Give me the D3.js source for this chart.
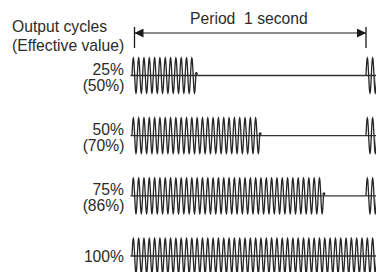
<!DOCTYPE html>
<html>
<head>
<meta charset="utf-8">
<script src="https://cdn.jsdelivr.net/npm/d3@7"></script>
<style>
  body { margin: 0; background: #fff; }
  svg { display: block; }
  text { font-family: "Liberation Sans", Arial, sans-serif; fill: #2b2b2b; }
</style>
</head>
<body>
<div id="chart"></div>
<script>
// dati
const rowLabels = ["25%", "50%", "75%", "100%"];
const effectiveLabels = ["(50%)", "(70%)", "(86%)", ""];
const onCycles = [12, 24, 36, 46];   // cicli accesi per riga
const periodCycles = 44;             // cicli in un periodo (1 secondo)
const restartCycles = 2;             // cicli visibili dopo la fine del periodo
const periodLabel = "Period\u00a0\u00a01 second";
const titleLines = ["Output cycles", "(Effective value)"];

const width = 376;
const height = 272;

const svg = d3.select("#chart")
    .append("svg")
    .attr("width", width)
    .attr("height", height);

const x = d3.scaleLinear().domain([0, periodCycles]).range([132, 366]);
const yRow = d3.scalePoint().domain(rowLabels).range([75.5, 256]);
const amp = d3.scaleLinear().domain([-1, 1]).range([17.5, -17.5]);

// titolo in alto a sinistra
svg.append("g")
    .selectAll("text")
    .data(titleLines)
    .enter()
    .append("text")
    .attr("x", 12)
    .attr("y", (d, i) => 32 + i * 18.5)
    .attr("font-size", "15.7px")
    .text(d => d);

// freccia del periodo
const arrowY = 33;
const defs = svg.append("defs");
defs.append("marker")
    .attr("id", "arrow")
    .attr("viewBox", "0 0 10 10")
    .attr("refX", 10)
    .attr("refY", 5)
    .attr("markerWidth", 9)
    .attr("markerHeight", 9)
    .attr("markerUnits", "userSpaceOnUse")
    .attr("orient", "auto-start-reverse")
    .append("path")
    .attr("d", "M0,0L10,5L0,10Z")
    .attr("fill", "#1a1a1a");

svg.append("line")
    .attr("x1", x(0) + 2.5).attr("x2", x(periodCycles))
    .attr("y1", arrowY).attr("y2", arrowY)
    .attr("stroke", "#1a1a1a")
    .attr("stroke-width", 1.2)
    .attr("marker-start", "url(#arrow)")
    .attr("marker-end", "url(#arrow)");

svg.append("g")
    .selectAll("line")
    .data([0, periodCycles])
    .enter()
    .append("line")
    .attr("x1", (d, i) => x(d) + (i === 0 ? 2.5 : 0))
    .attr("x2", (d, i) => x(d) + (i === 0 ? 2.5 : 0))
    .attr("y1", 27).attr("y2", 48)
    .attr("stroke", "#1a1a1a")
    .attr("stroke-width", 1.3);

svg.append("text")
    .attr("x", 190)
    .attr("y", 24)
    .attr("font-size", "15.7px")
    .text(periodLabel);

// forma d'onda
const line = d3.line()
    .x(d => x(d.t))
    .y(d => d.y);

function wavePoints(t0, t1, cy) {
    const pts = [];
    const steps = Math.round((t1 - t0) * 24);
    for (let k = 0; k <= steps; k++) {
        const t = t0 + (t1 - t0) * k / steps;
        pts.push({ t: t, y: cy + amp(Math.sin(2 * Math.PI * (t - t0))) });
    }
    return pts;
}

rowLabels.forEach((label, i) => {
    const cy = yRow(label);
    const g = svg.append("g");

    // linea di base
    g.append("line")
        .attr("x1", x(0) - 1.5).attr("x2", width)
        .attr("y1", cy).attr("y2", cy)
        .attr("stroke", "#333")
        .attr("stroke-width", 1.3);

    const bursts = [[0, onCycles[i]]];
    if (onCycles[i] < periodCycles) {
        bursts.push([periodCycles, periodCycles + restartCycles]);
    }

    g.selectAll("path")
        .data(bursts)
        .enter()
        .append("path")
        .attr("d", d => line(wavePoints(d[0], d[1], cy)))
        .attr("fill", "none")
        .attr("stroke", "#262626")
        .attr("stroke-width", 1.3);

    if (onCycles[i] < periodCycles) {
        g.append("circle")
            .attr("cx", x(onCycles[i]) + 0.5)
            .attr("cy", cy - 2)
            .attr("r", 1.5)
            .attr("fill", "#2a2a2a");
    }

    // etichette a sinistra
    if (effectiveLabels[i]) {
        g.append("text")
            .attr("x", 124).attr("y", cy - 1)
            .attr("text-anchor", "end")
            .attr("font-size", "15.7px")
            .text(label);
        g.append("text")
            .attr("x", 124.5).attr("y", cy + 15)
            .attr("text-anchor", "end")
            .attr("font-size", "15.7px")
            .text(effectiveLabels[i]);
    } else {
        g.append("text")
            .attr("x", 124).attr("y", cy + 6)
            .attr("text-anchor", "end")
            .attr("font-size", "15.7px")
            .text(label);
    }
});
</script>
</body>
</html>
